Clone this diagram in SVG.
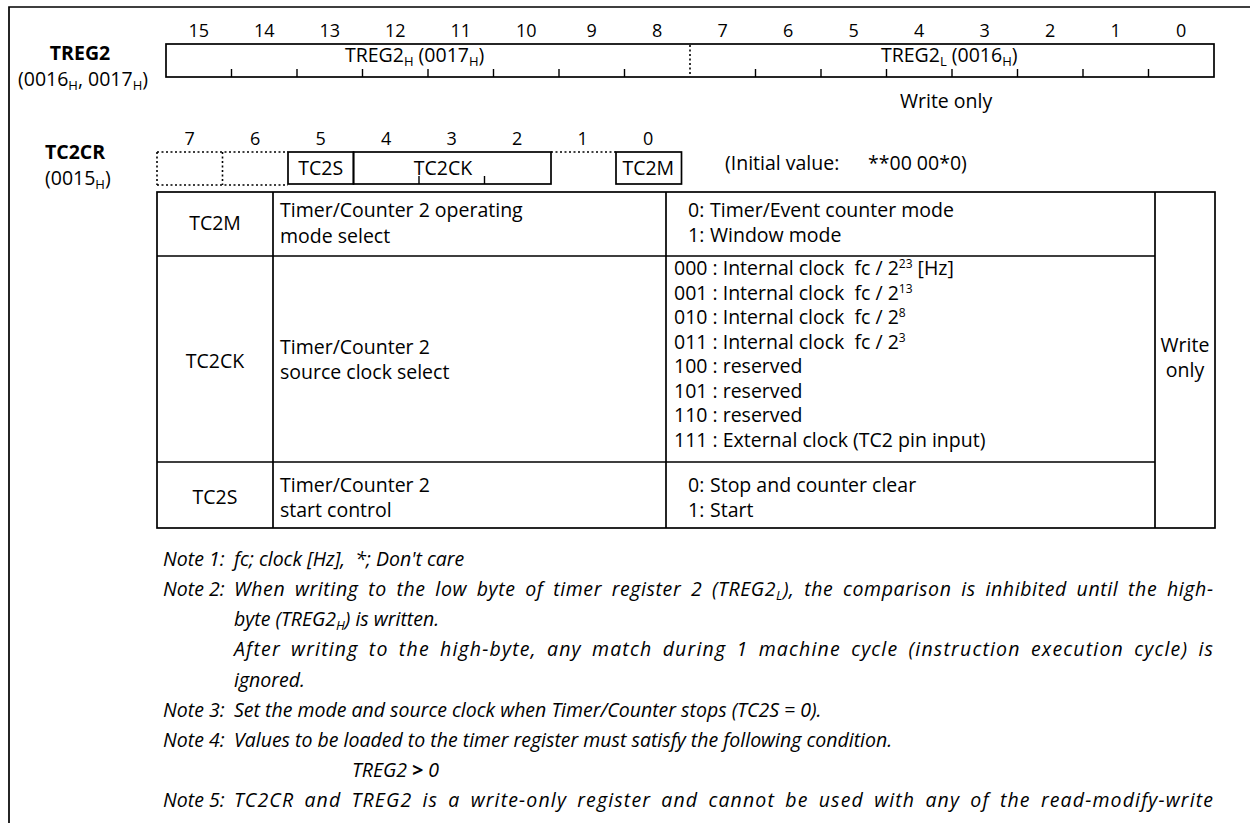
<svg xmlns="http://www.w3.org/2000/svg" width="1250" height="823" viewBox="0 0 1250 823">
<style>
text { font-family: "Open Sans", "Noto Sans", "DejaVu Sans", sans-serif; fill:#000; }
.bn { font-size:18px; text-anchor:middle; }
.t { font-size:19.5px; }
.c { text-anchor:middle; }
.bl { font-weight:bold; }
.n { font-size:19.5px; font-style:italic; }
.ln { stroke:#000; stroke-width:1.7; fill:none; }
.thin { stroke:#000; stroke-width:1.4; fill:none; }
.dot { stroke:#000; stroke-width:1.6; stroke-dasharray:2 2.5; fill:none; }
.sub { font-size:13px; }
.sup { font-size:12px; }
</style>
<rect width="1250" height="823" fill="#fff"/>
<path d="M9 823V7H1250" class="ln" stroke-width="2.2"/>

<g id="treg2">
  <text class="t bl c" x="80" y="60" font-size="18">TREG2</text>
  <text class="t c" x="83" y="86" font-size="18">(0016<tspan class="sub" dy="4">H</tspan><tspan dy="-4">, 0017</tspan><tspan class="sub" dy="4">H</tspan><tspan dy="-4">)</tspan></text>
  <g class="bn">
    <text x="198.75" y="37">15</text><text x="264.25" y="37">14</text><text x="329.75" y="37">13</text><text x="395.25" y="37">12</text>
    <text x="460.75" y="37">11</text><text x="526.25" y="37">10</text><text x="591.75" y="37">9</text><text x="657.25" y="37">8</text>
    <text x="722.75" y="37">7</text><text x="788.25" y="37">6</text><text x="853.75" y="37">5</text><text x="919.25" y="37">4</text>
    <text x="984.75" y="37">3</text><text x="1050.25" y="37">2</text><text x="1115.75" y="37">1</text><text x="1181.25" y="37">0</text>
  </g>
  <rect x="166" y="44" width="1048" height="33" class="ln"/>
  <path class="thin" d="M231.5 69V77M297 69V77M362.5 69V77M428 69V77M493.5 69V77M559 69V77M624.5 69V77M755.5 69V77M821 69V77M886.5 69V77M952 69V77M1017.5 69V77M1083 69V77M1148.5 69V77"/>
  <path class="dot" d="M690 45V76"/>
  <text class="t" x="345" y="62">TREG2<tspan class="sub" dy="4">H</tspan><tspan dy="-4"> (0017</tspan><tspan class="sub" dy="4">H</tspan><tspan dy="-4">)</tspan></text>
  <text class="t" x="881" y="62">TREG2<tspan class="sub" dy="4">L</tspan><tspan dy="-4"> (0016</tspan><tspan class="sub" dy="4">H</tspan><tspan dy="-4">)</tspan></text>
  <text class="t" x="900" y="108" font-size="18">Write only</text>
</g>

<g id="tc2cr">
  <text class="t bl" x="45" y="159" font-size="18">TC2CR</text>
  <text class="t" x="45" y="185" font-size="18">(0015<tspan class="sub" dy="4">H</tspan><tspan dy="-4">)</tspan></text>
  <g class="bn">
    <text x="189.75" y="145">7</text><text x="255.25" y="145">6</text><text x="320.75" y="145">5</text><text x="386.25" y="145">4</text>
    <text x="451.75" y="145">3</text><text x="517.25" y="145">2</text><text x="582.75" y="145">1</text><text x="648.25" y="145">0</text>
  </g>
  <path class="dot" d="M157 152H288M157 185H288M157 152V185M222.5 152V185M551 152H616"/>
  <rect x="288" y="152" width="65.5" height="32" class="ln"/>
  <rect x="353.5" y="152" width="197.5" height="32" class="ln"/>
  <path class="thin" d="M419 176V184M484.5 176V184"/>
  <rect x="616" y="152" width="65.5" height="32" class="ln"/>
  <text class="t c" x="320.75" y="175">TC2S</text>
  <text class="t c" x="443" y="175">TC2CK</text>
  <text class="t c" x="648.25" y="175">TC2M</text>
  <text class="t" x="725" y="170">(Initial value:</text>
  <text class="t" x="868" y="170">**00 00*0)</text>
</g>

<g id="table">
  <rect x="157" y="192" width="1058" height="336" class="ln"/>
  <path class="ln" d="M157 256H1155M157 462H1155M273 192V528M666 192V528M1155 192V528"/>
</g>

<g id="row-tc2m">
  <text class="t c" x="215" y="230">TC2M</text>
  <text class="t" x="280" y="217">Timer/Counter 2 operating</text>
  <text class="t" x="280" y="243">mode select</text>
  <text class="t" x="688" y="217">0:<tspan x="710">Timer/Event counter mode</tspan></text>
  <text class="t" x="688" y="242">1:<tspan x="710">Window mode</tspan></text>
</g>

<g id="row-tc2ck">
  <text class="t c" x="215" y="368">TC2CK</text>
  <text class="t" x="280" y="354">Timer/Counter 2</text>
  <text class="t" x="280" y="379">source clock select</text>
  <text class="t" x="674" y="275" xml:space="preserve">000 : Internal clock  fc / 2<tspan class="sup" dy="-7">23</tspan><tspan dy="7"> [Hz]</tspan></text>
  <text class="t" x="674" y="299.5" xml:space="preserve">001 : Internal clock  fc / 2<tspan class="sup" dy="-7">13</tspan></text>
  <text class="t" x="674" y="324" xml:space="preserve">010 : Internal clock  fc / 2<tspan class="sup" dy="-7">8</tspan></text>
  <text class="t" x="674" y="348.5" xml:space="preserve">011 : Internal clock  fc / 2<tspan class="sup" dy="-7">3</tspan></text>
  <text class="t" x="674" y="373">100 : reserved</text>
  <text class="t" x="674" y="397.5">101 : reserved</text>
  <text class="t" x="674" y="422">110 : reserved</text>
  <text class="t" x="674" y="446.5">111 : External clock (TC2 pin input)</text>
</g>

<g id="row-tc2s">
  <text class="t c" x="215" y="504">TC2S</text>
  <text class="t" x="280" y="492">Timer/Counter 2</text>
  <text class="t" x="280" y="517">start control</text>
  <text class="t" x="688" y="492">0:<tspan x="710">Stop and counter clear</tspan></text>
  <text class="t" x="688" y="517">1:<tspan x="710">Start</tspan></text>
</g>

<g id="access">
  <text class="t c" x="1185" y="352">Write</text>
  <text class="t c" x="1185" y="376.5">only</text>
</g>

<g id="notes">
  <text class="n" x="163" y="566">Note 1:</text>
  <text class="n" x="234" y="566" xml:space="preserve">fc; clock [Hz],  *; Don't care</text>
  <text class="n" x="163" y="596">Note 2:</text>
  <text class="n" x="234" y="596" word-spacing="4" textLength="979" lengthAdjust="spacing">When writing to the low byte of timer register 2 (TREG2<tspan class="sub" dy="4">L</tspan><tspan dy="-4">), the comparison is inhibited until the high-</tspan></text>
  <text class="n" x="234" y="626">byte (TREG2<tspan class="sub" dy="4">H</tspan><tspan dy="-4">) is written.</tspan></text>
  <text class="n" x="234" y="656" word-spacing="4" textLength="979" lengthAdjust="spacing">After writing to the high-byte, any match during 1 machine cycle (instruction execution cycle) is</text>
  <text class="n" x="234" y="686.5">ignored.</text>
  <text class="n" x="163" y="716.5">Note 3:</text>
  <text class="n" x="234" y="716.5">Set the mode and source clock when Timer/Counter stops (TC2S = 0).</text>
  <text class="n" x="163" y="746.5">Note 4:</text>
  <text class="n" x="234" y="746.5">Values to be loaded to the timer register must satisfy the following condition.</text>
  <text class="n" x="352" y="777">TREG2 <tspan font-weight="bold">&gt;</tspan> 0</text>
  <text class="n" x="163" y="807">Note 5:</text>
  <text class="n" x="234" y="807" word-spacing="4" textLength="979" lengthAdjust="spacing">TC2CR and TREG2 is a write-only register and cannot be used with any of the read-modify-write</text>
</g>
</svg>
